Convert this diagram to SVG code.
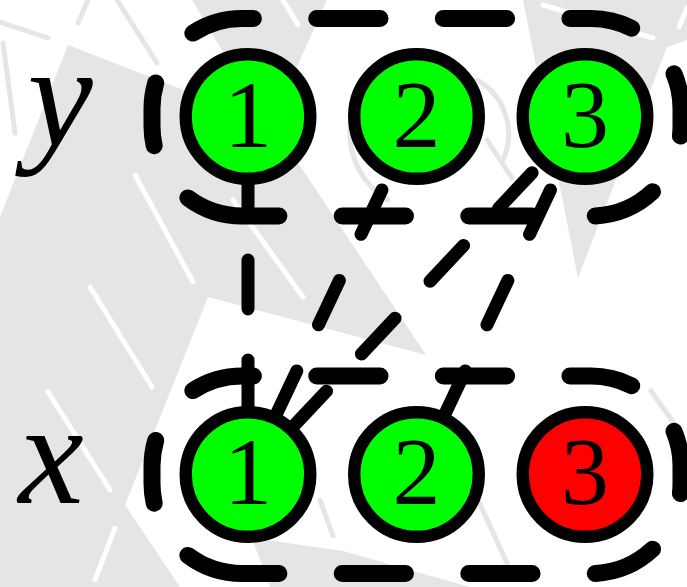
<svg xmlns="http://www.w3.org/2000/svg" width="687" height="587" viewBox="0 0 687 587">
<style>
.bg{fill:#e5e5e5}
.wl{stroke:#ffffff;stroke-width:5;stroke-linecap:round;fill:none}
.gl{stroke:#e5e5e5;stroke-width:5;stroke-linecap:round;fill:none}
.enc{fill:none;stroke:#000;stroke-width:17;stroke-linecap:round;stroke-dasharray:63.3 63.3;stroke-dashoffset:5.3}
.edge{stroke:#000;stroke-width:13;stroke-linecap:round;stroke-dasharray:49 51;fill:none}
.node{stroke:#000;stroke-width:12.4}
.g{fill:#00ff00}
.r{fill:#ff0000}
</style>
<defs>
<path id="encpath" d="M242,216 A90,90 0 0 1 152,126 L152,108.5 A90,90 0 0 1 242,18.5 L591,18.5 A90,90 0 0 1 681,108.5 L681,126 A90,90 0 0 1 591,216 Z"/>
</defs>
<g id="background">
<rect width="687" height="587" fill="#fff"/>
<polygon class="bg" points="0,217 68,45 273,125 426,355 208,297 125,505 180,587 0,587"/>
<polygon class="bg" points="192,0 327,0 269,129"/>
<polygon class="bg" points="523,0 687,0 687,40 667,47 578,278"/>
<polygon class="bg" points="252,538 343,551 470,587 270,587"/>
<line class="wl" x1="135" y1="175" x2="193" y2="282"/>
<line class="wl" x1="90" y1="287" x2="152" y2="387"/>
<line class="wl" x1="48" y1="392" x2="110" y2="490"/>
<line class="wl" x1="115" y1="528" x2="95" y2="580"/>
<line class="wl" x1="233" y1="200" x2="303" y2="297"/>
<line class="wl" x1="283" y1="0" x2="298" y2="25"/>
<line class="wl" x1="543" y1="5" x2="653" y2="38"/>
<line class="wl" x1="679" y1="27" x2="687" y2="8"/>
<line class="gl" x1="0" y1="22" x2="48" y2="38"/>
<line class="gl" x1="3" y1="43" x2="15" y2="133"/>
<line class="gl" x1="78" y1="23" x2="88" y2="0"/>
<line class="gl" x1="117" y1="0" x2="157" y2="63"/>
<line class="gl" x1="651" y1="391" x2="676" y2="426"/>
<line class="gl" x1="478" y1="500" x2="507" y2="563"/>
<line class="gl" x1="320" y1="500" x2="333" y2="536"/>
<path class="gl" d="M350,127 A78,78 0 0 0 388,200"/>
<path class="gl" d="M477,80 A62,62 0 0 1 503,160"/>
<line class="gl" x1="487" y1="140" x2="512" y2="178"/>
</g>
<g id="connectors">
<line class="edge" x1="248" y1="409" x2="248" y2="182"/>
<line class="edge" x1="275.89" y1="415.24" x2="388.61" y2="175.76"/>
<line class="edge" x1="292.90" y1="426.81" x2="540.10" y2="164.19"/>
<line class="edge" x1="444.39" y1="415.24" x2="557.11" y2="175.76"/>
</g>
<g id="group-y"><use href="#encpath" class="enc"/></g>
<g id="group-x"><use href="#encpath" class="enc" transform="translate(0,357.5)"/></g>
<g font-family="'Liberation Serif','DejaVu Serif',serif" font-size="96" text-anchor="middle" fill="#000">
<g id="y1"><circle class="node g" cx="248" cy="116.5" r="62.3"/><text x="248" y="146.5">1</text></g>
<g id="y2"><circle class="node g" cx="416.5" cy="116.5" r="62.3"/><text x="416.5" y="146.5">2</text></g>
<g id="y3"><circle class="node g" cx="585" cy="116.5" r="62.3"/><text x="585" y="146.5">3</text></g>
<g id="x1"><circle class="node g" cx="248" cy="474.5" r="62.3"/><text x="248" y="503.5">1</text></g>
<g id="x2"><circle class="node g" cx="416.5" cy="474.5" r="62.3"/><text x="416.5" y="503.5">2</text></g>
<g id="x3"><circle class="node r" cx="585" cy="474.5" r="62.3"/><text x="585" y="503.5">3</text></g>
</g>
<g id="labels" font-family="'Liberation Serif','DejaVu Serif',serif" font-style="italic" font-size="147" text-anchor="middle" fill="#000">
<text x="60" y="146">y</text>
<text x="51" y="503">x</text>
</g>
</svg>
